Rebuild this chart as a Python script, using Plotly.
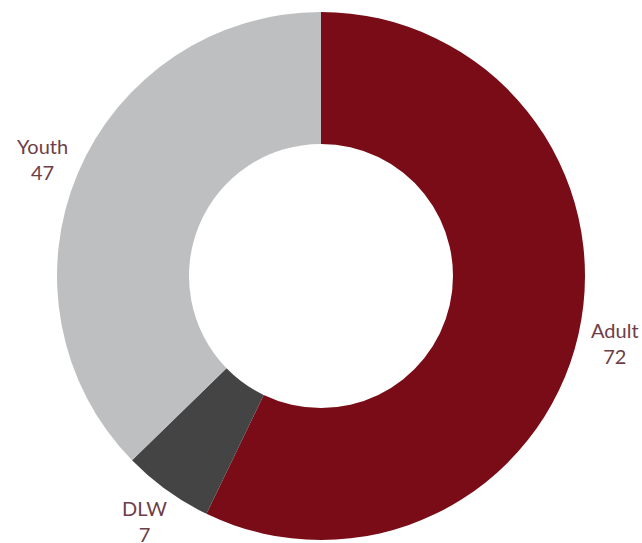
import math
import plotly.graph_objects as go

labels = ["Adult", "DLW", "Youth"]
values = [72, 7, 47]
colors = ["#790c16", "#444444", "#bebfc1"]

W, H = 642, 543
ML, MR, MT, MB = 0, 0, 12, 3
plot_w, plot_h = W - ML - MR, H - MT - MB
cx_px = ML + plot_w / 2
cy_px = MT + plot_h / 2
R = min(plot_w, plot_h) / 2
label_r = R + 38

fig = go.Figure(go.Pie(
    labels=labels, values=values, hole=0.5, sort=False,
    direction="clockwise", rotation=0,
    marker=dict(colors=colors, line=dict(width=0)),
    textinfo="none", hoverinfo="label+value", showlegend=False,
))

total = sum(values)
cum = 0
annotations = []
for lab, v in zip(labels, values):
    mid = (cum + v / 2) / total * 2 * math.pi
    cum += v
    px = cx_px + label_r * math.sin(mid)
    py = cy_px - label_r * math.cos(mid)
    annotations.append(dict(
        x=(px - ML) / plot_w, y=(H - MB - py) / plot_h,
        xref="paper", yref="paper", showarrow=False,
        text=f"{lab}<br>{v}", align="center",
        xanchor="center", yanchor="middle",
        font=dict(family="Lato, Raleway, sans-serif", size=20, color="#6e3d48"),
    ))

fig.update_layout(
    width=W, height=H,
    margin=dict(l=ML, r=MR, t=MT, b=MB),
    paper_bgcolor="white", plot_bgcolor="white",
    annotations=annotations,
)
fig.write_html("out.html", config={"displayModeBar": False},
               post_script="document.body.style.margin='0';document.body.style.overflow='hidden';")
